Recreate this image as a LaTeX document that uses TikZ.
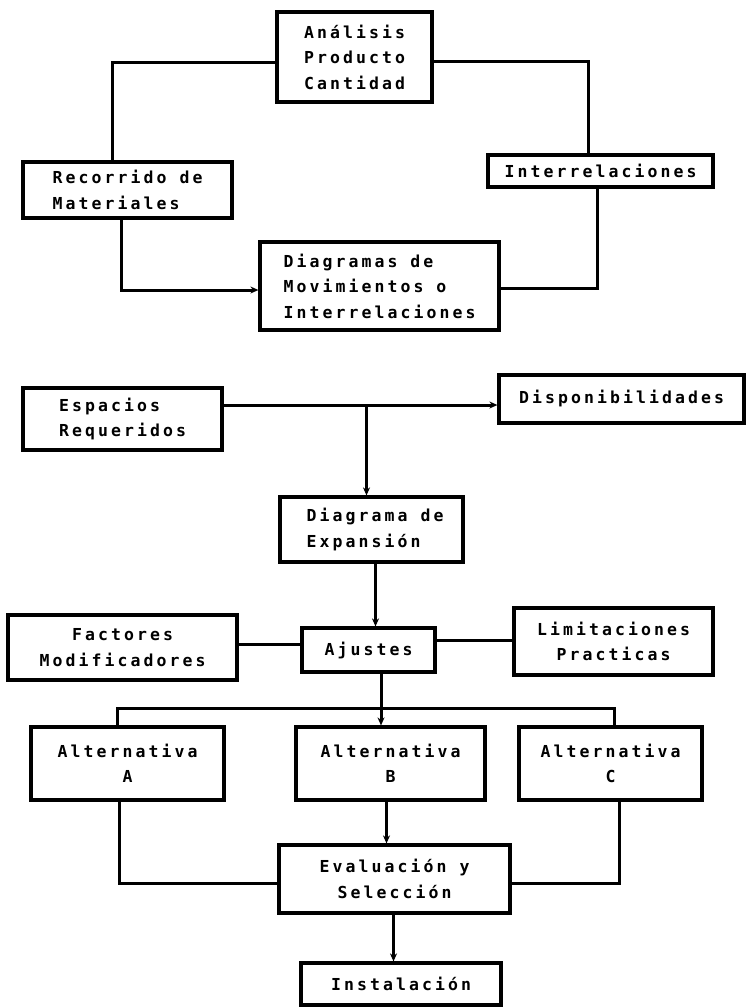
\documentclass[tikz,border=0pt]{standalone}
\usepackage{fontspec}
\newfontfamily\diagfont[LetterSpace=18.6]{DejaVu Sans Mono}
\usetikzlibrary{arrows.meta}
\begin{document}
\begin{tikzpicture}[x=1pt,y=1pt,
  box/.style={draw, line width=3.2pt, inner sep=0pt, align=center,
    font={\diagfont\bfseries\fontsize{16.5}{25.5}\selectfont}},
  lbox/.style={box, align=left},
  conn/.style={line width=3pt},
  arr/.style={line width=3pt, -{Stealth[length=8pt,width=7pt]}}]
\fill[white] (0,0) rectangle (746,-1007);
\useasboundingbox (0,0) rectangle (746,-1007);

% upper loop
\node[lbox, minimum width=155pt, minimum height=90pt] (ana) at (354.5,-57) {Análisis\\Producto\\Cantidad};
\node[lbox, minimum width=209pt, minimum height=56pt] (rec) at (127.5,-190) {Recorrido de\\Materiales};
\node[box, minimum width=225pt, minimum height=32pt] (inter) at (600.5,-171) {Interrelaciones};
\node[lbox, minimum width=239pt, minimum height=88pt] (diag) at (379.5,-286) {Diagramas de\\Movimientos o\\Interrelaciones};

\draw[conn] ([yshift=-5pt]ana.west) -| ([xshift=-15.5pt]rec.north);
\draw[conn] ([yshift=-4pt]ana.east) -| ([xshift=-12.5pt]inter.north);
\draw[arr] ([xshift=-6.5pt]rec.south) |- ([yshift=-4pt]diag.west);
\draw[conn] ([xshift=-3.5pt]inter.south) |- ([yshift=-2pt]diag.east);

% middle
\node[lbox, minimum width=199pt, minimum height=62pt] (esp) at (122.5,-419) {Espacios\\Requeridos};
\node[box, minimum width=245pt, minimum height=48pt] (disp) at (621.5,-399) {Disponibilidades};
\node[lbox, minimum width=183pt, minimum height=65pt] (exp) at (371.5,-529.5) {\hspace*{7pt}Diagrama de\\\hspace*{7pt}Expansión};
\coordinate (j1) at (366.5,-405);

\draw[arr] ([yshift=14pt]esp.east) -- ([yshift=-6pt]disp.west);
\draw[arr] (j1) -- (j1 |- exp.north);

% ajustes row
\node[box, minimum width=133pt, minimum height=44pt] (aju) at (368.5,-650) {Ajustes};
\node[box, minimum width=229pt, minimum height=65pt] (fac) at (122.5,-647.5) {Factores\\Modificadores};
\node[box, minimum width=199pt, minimum height=67pt] (lim) at (613.5,-641.5) {Limitaciones\\Practicas};

\draw[arr] ([xshift=4pt]exp.south) -- ([xshift=4pt]exp.south |- aju.north);
\draw[conn] ([yshift=3.5pt]fac.east) -- ([yshift=6pt]aju.west);
\draw[conn] ([yshift=10pt]aju.east) -- ([yshift=1.5pt]lim.west);

% alternatives
\node[box, minimum width=193pt, minimum height=73pt] (altA) at (127.5,-763.5) {Alternativa\\A};
\node[box, minimum width=189pt, minimum height=73pt] (altB) at (390.5,-763.5) {Alternativa\\B};
\node[box, minimum width=183pt, minimum height=73pt] (altC) at (610.5,-763.5) {Alternativa\\C};
\coordinate (bus) at (380,-708);

\draw[arr] ([xshift=12.5pt]aju.south) -- ([xshift=12.5pt]aju.south |- altB.north);
\draw[conn] ([xshift=-10.5pt]altA.north) -- ([xshift=-10.5pt]altA.north |- bus)
  -- ([xshift=3.5pt]altC.north |- bus) -- ([xshift=3.5pt]altC.north);

% evaluation
\node[box, minimum width=231pt, minimum height=68pt] (eva) at (394.5,-879) {Evaluación y\\Selección};
\node[box, minimum width=200pt, minimum height=42pt] (ins) at (401,-984) {Instalación};

\draw[conn] ([xshift=-8.5pt]altA.south) |- ([yshift=-4pt]eva.west);
\draw[conn] ([xshift=8.5pt]altC.south) |- ([yshift=-4pt]eva.east);
\draw[arr] ([xshift=-4pt]altB.south) -- ([xshift=-4pt]altB.south |- eva.north);
\draw[arr] ([xshift=-1pt]eva.south) -- ([xshift=-1pt]eva.south |- ins.north);
\end{tikzpicture}
\end{document}
